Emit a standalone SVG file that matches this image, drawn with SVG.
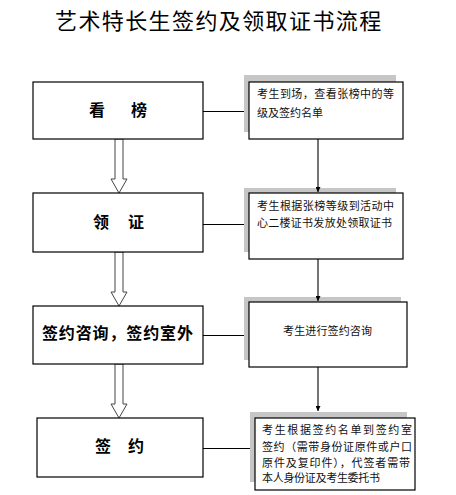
<svg xmlns="http://www.w3.org/2000/svg" width="456" height="495" viewBox="0 0 456 495">
<defs>
<style>
.box{fill:#fff;stroke:#000;stroke-width:1.2}
.shadow{fill:#c6c6c6;stroke:none}
.ln{stroke:#000;stroke-width:1.1;fill:none}
.hollow{fill:#fff;stroke:#444;stroke-width:1}
.lbl{font-family:"Liberation Sans","Noto Sans CJK SC",sans-serif;font-size:16px;font-weight:bold;fill:#000}
.sm{font-family:"Liberation Sans","Noto Sans CJK SC",sans-serif;font-size:11px;fill:#111}
.title{font-family:"Liberation Sans","Noto Sans CJK SC",sans-serif;font-size:22px;fill:#000}
</style>
<marker id="ah" viewBox="0 0 10 10" refX="10" refY="5" markerWidth="5" markerHeight="5" markerUnits="userSpaceOnUse" orient="auto">
<path d="M0,0 L10,5 L0,10 Z" fill="#000"/>
</marker>
</defs>
<rect width="456" height="495" fill="#fff"/>
<text class="title" x="55" y="29" letter-spacing="1.4">艺术特长生签约及领取证书流程</text>

<g id="connectors">
<line class="ln" x1="203" y1="111.5" x2="249" y2="111.5"/>
<line class="ln" x1="203" y1="224.5" x2="249" y2="224.5"/>
<line class="ln" x1="203" y1="335.5" x2="249" y2="335.5"/>
<line class="ln" x1="203" y1="448.5" x2="255" y2="448.5"/>
<path class="hollow" d="M115,139 L123,139 L123,179 L127,179 L119,193 L111,179 L115,179 Z"/>
<path class="hollow" d="M115,252 L123,252 L123,292 L127,292 L119,306 L111,292 L115,292 Z"/>
<path class="hollow" d="M115,364 L123,364 L123,404 L127,404 L119,418 L111,404 L115,404 Z"/>
</g>

<g id="n1"><rect class="box" x="33" y="82" width="170" height="57"/>
<text class="lbl" x="89" y="116">看</text><text class="lbl" x="131" y="116">榜</text></g>
<g id="n2"><rect class="box" x="33" y="193" width="170" height="59"/>
<text class="lbl" x="93" y="228">领</text><text class="lbl" x="128" y="228">证</text></g>
<g id="n3"><rect class="box" x="33" y="306" width="170" height="58"/>
<text class="lbl" x="42" y="339" font-size="17" textLength="151" lengthAdjust="spacing">签约咨询，签约室外</text></g>
<g id="n4"><rect class="box" x="37" y="418" width="166" height="59"/>
<text class="lbl" x="95" y="452">签</text><text class="lbl" x="128" y="452">约</text></g>

<g id="r1"><rect class="shadow" x="244" y="75" width="152" height="57"/>
<rect class="box" x="249" y="82" width="154" height="57"/>
<text class="sm" x="257" y="98" textLength="137" lengthAdjust="spacing">考生到场，查看张榜中的等</text>
<text class="sm" x="257" y="117" textLength="66" lengthAdjust="spacing">级及签约名单</text></g>
<g id="r2"><rect class="shadow" x="244" y="188" width="152" height="64"/>
<rect class="box" x="249" y="193" width="154" height="66"/>
<text class="sm" x="257" y="210" textLength="137" lengthAdjust="spacing">考生根据张榜等级到活动中</text>
<text class="sm" x="257" y="227" textLength="135" lengthAdjust="spacing">心二楼证书发放处领取证书</text></g>
<g id="r3"><rect class="shadow" x="244" y="297" width="157" height="63"/>
<rect class="box" x="249" y="302" width="158" height="65"/>
<text class="sm" x="283" y="335" textLength="89" lengthAdjust="spacing">考生进行签约咨询</text></g>
<g id="r4"><rect class="shadow" x="250" y="412" width="157" height="70"/>
<rect class="box" x="255" y="418" width="160" height="72"/>
<text class="sm" x="262" y="434" textLength="150" lengthAdjust="spacing">考生根据签约名单到签约室</text>
<text class="sm" x="262" y="451" textLength="150" lengthAdjust="spacing">签约（需带身份证原件或户口</text>
<text class="sm" x="262" y="467" textLength="148" lengthAdjust="spacing">原件及复印件），代签者需带</text>
<text class="sm" x="262" y="482" textLength="118" lengthAdjust="spacing">本人身份证及考生委托书</text></g>

<g id="vconn">
<line class="ln" x1="318" y1="139" x2="318" y2="192" marker-end="url(#ah)"/>
<line class="ln" x1="318" y1="259" x2="318" y2="301" marker-end="url(#ah)"/>
<line class="ln" x1="318" y1="367" x2="318" y2="411" marker-end="url(#ah)"/>
</g>
</svg>
